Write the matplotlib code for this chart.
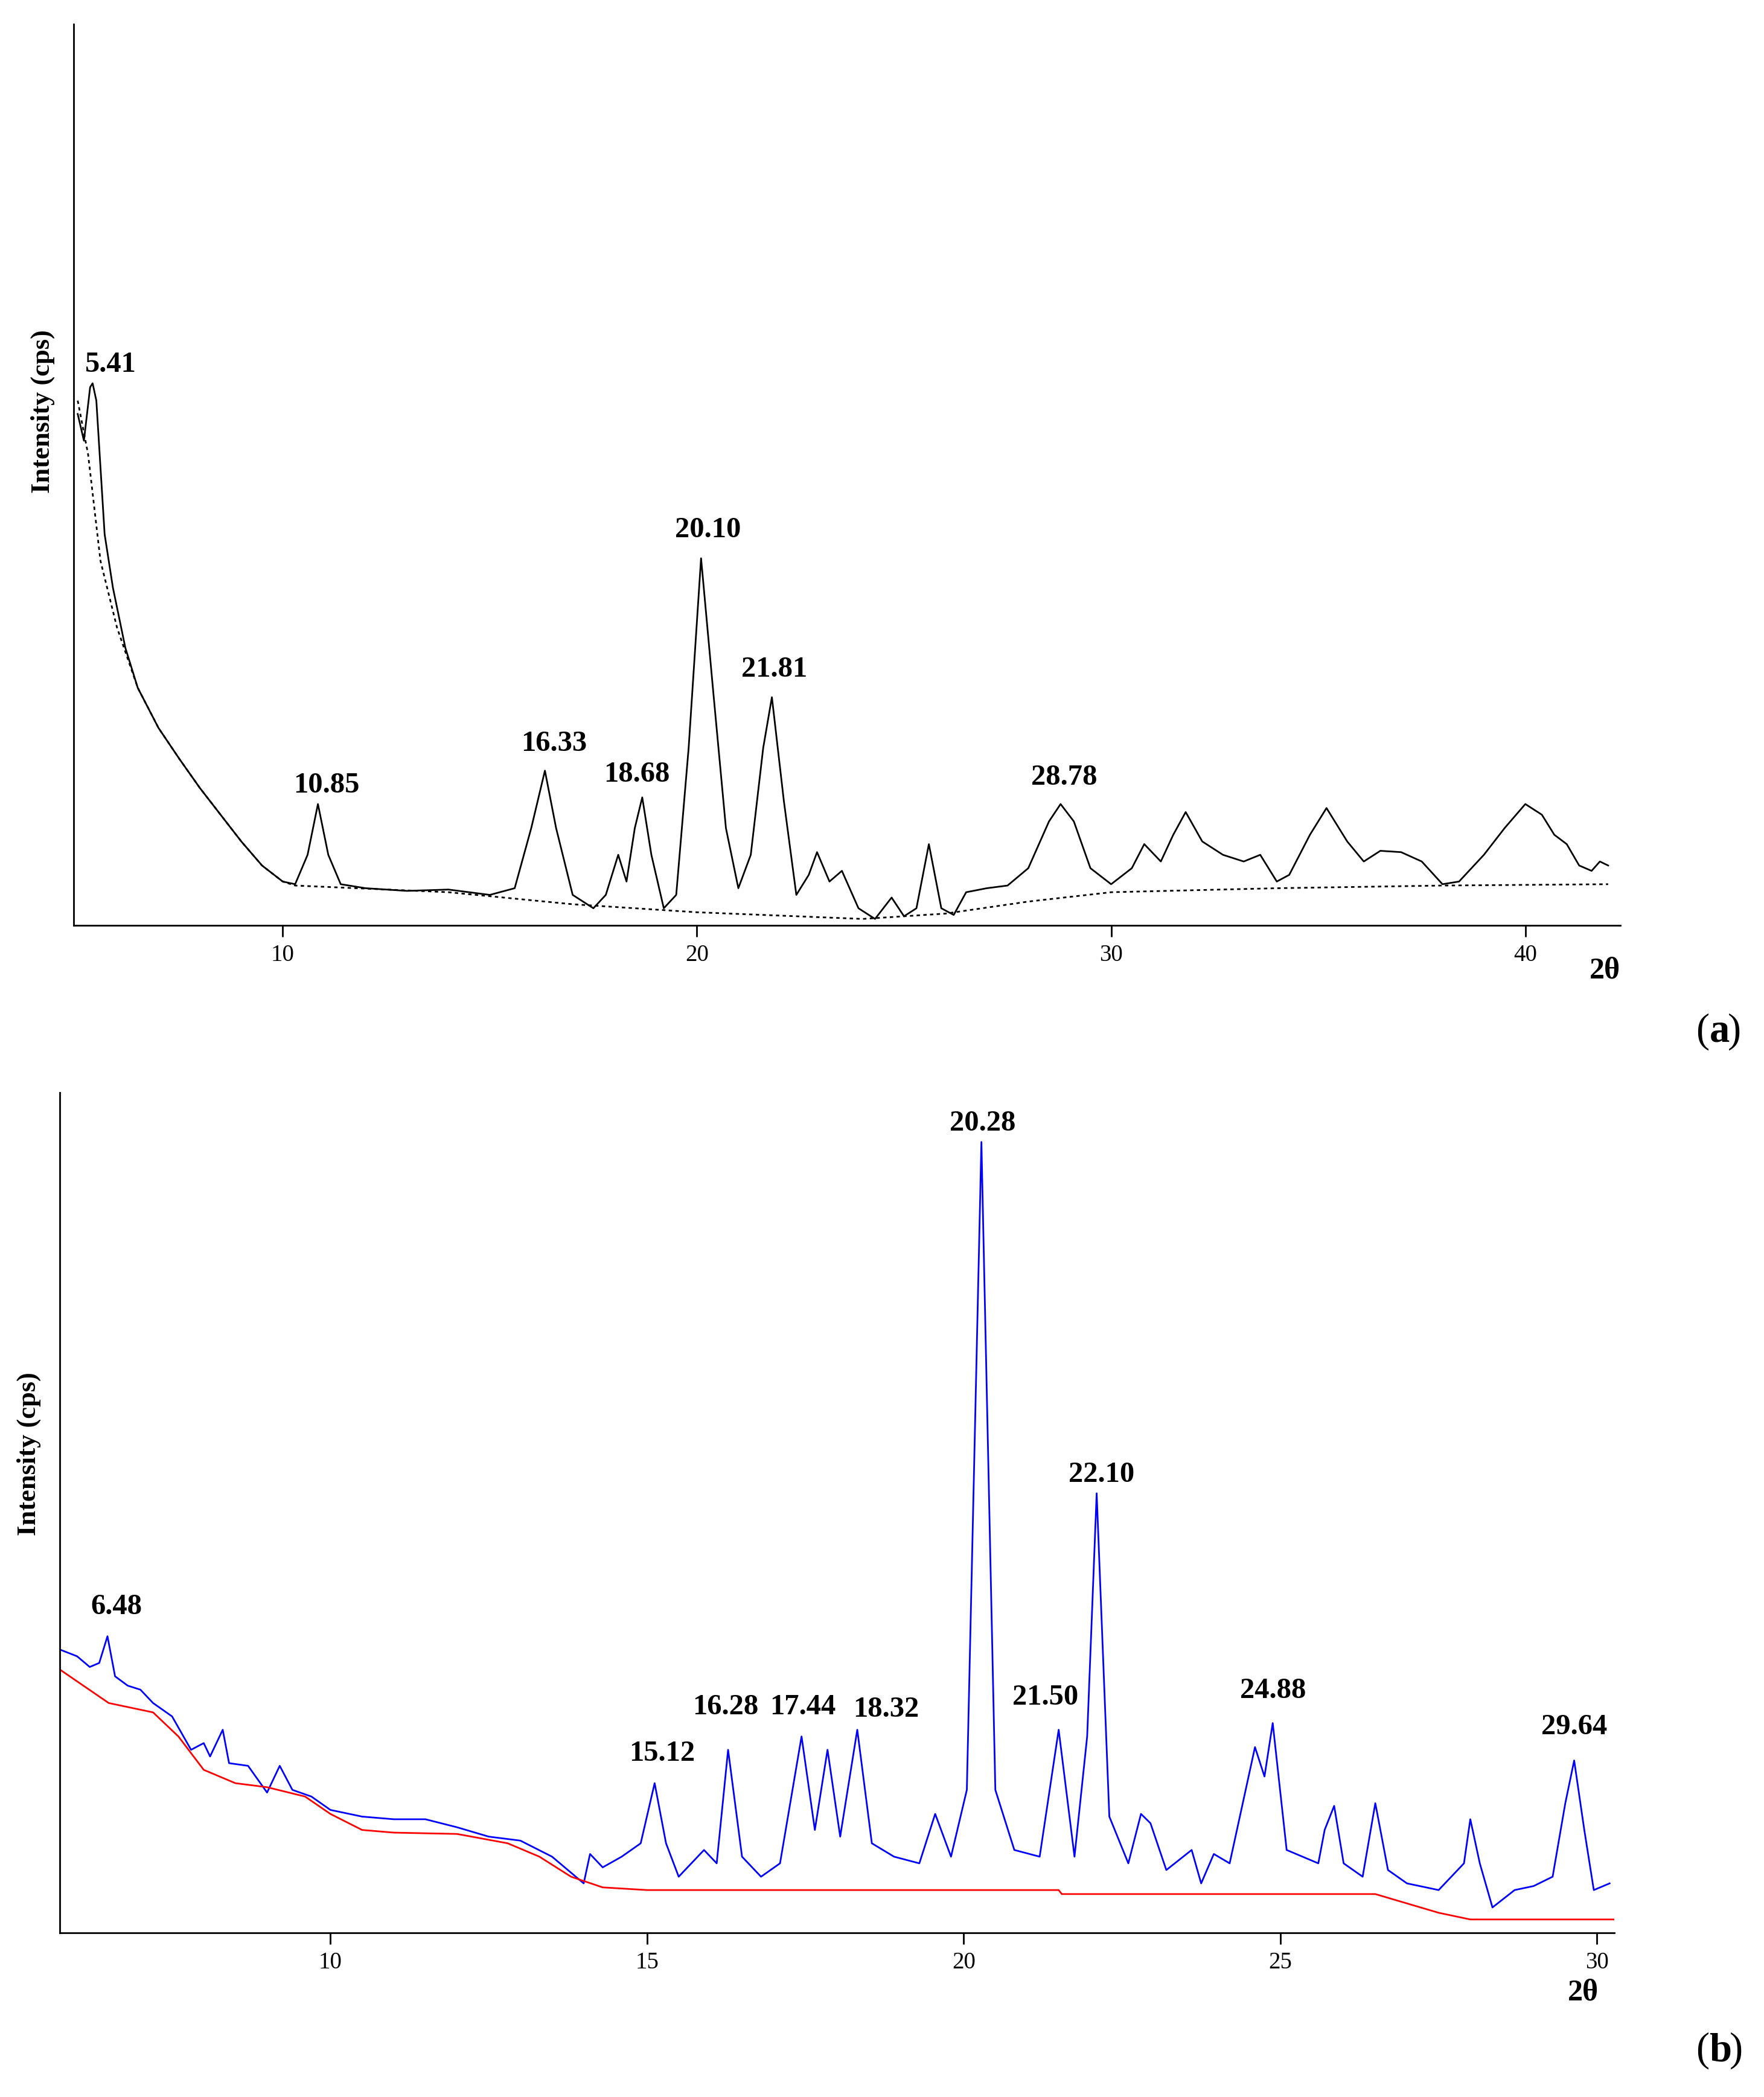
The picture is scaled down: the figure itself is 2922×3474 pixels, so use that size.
import matplotlib
matplotlib.use("Agg")
import matplotlib.pyplot as plt

# Panel (a) pattern
a_x = [5.05,5.2,5.35,5.41,5.5,5.7,5.9,6.2,6.5,7.0,7.5,8.0,8.5,9.0,9.5,10.0,10.3,10.6,10.85,11.1,11.4,12,13,14,15,15.6,16.0,16.33,16.6,17.0,17.5,17.8,18.1,18.3,18.5,18.68,18.9,19.2,19.5,19.8,20.10,20.4,20.7,21.0,21.3,21.6,21.81,22.1,22.4,22.7,22.9,23.2,23.5,23.9,24.3,24.7,25.0,25.3,25.6,25.9,26.2,26.5,27,27.5,28.0,28.5,28.78,29.1,29.5,30,30.5,30.8,31.2,31.5,31.8,32.2,32.7,33.2,33.6,34.0,34.3,34.8,35.2,35.7,36.1,36.5,37.0,37.5,38.0,38.4,39.0,39.5,40.0,40.4,40.7,41.0,41.3,41.6,41.8,42.0]
a_y = [383,363,403,406,393,293,253,208,178,148,125,103,83,63,45,33,31,53,91,53,31,28,26,27,23,28,73,116,73,23,13,23,53,33,73,96,53,13,23,133,275,173,73,28,53,133,171,93,23,38,55,33,41,13,5,21,7,13,61,13,8,25,28,30,43,78,91,78,43,31,43,61,48,68,85,63,53,48,53,33,38,68,88,63,48,56,55,48,31,33,53,73,91,83,68,61,45,41,48,45]
a_bx = [5.05,5.3,5.6,6.0,6.5,7.0,7.5,8.0,8.5,9.0,9.5,10.0,10.3,14,17,20,24,26,28,30,34,38,42]
a_by = [393,353,273,223,178,148,125,103,83,63,45,33,30,25,16,10,5,9,18,25,28,30,31]
a_peaks = ["5.41","10.85","16.33","18.68","20.10","21.81","28.78"]
a_lab_x = [5.84,11.06,16.55,18.55,20.26,21.87,28.87]
a_lab_y = [420,105,136,113,296,192,111]

# Panel (b) pattern
b_x = [5.73,6.0,6.2,6.35,6.48,6.6,6.8,7.0,7.2,7.5,7.8,8.0,8.1,8.3,8.4,8.7,9.0,9.2,9.4,9.7,10.0,10.5,11,11.5,12,12.5,13,13.5,14.0,14.1,14.3,14.6,14.9,15.12,15.3,15.5,15.9,16.1,16.28,16.5,16.8,17.1,17.44,17.65,17.85,18.05,18.32,18.55,18.9,19.3,19.55,19.8,20.05,20.28,20.5,20.8,21.2,21.50,21.75,21.95,22.10,22.3,22.6,22.8,22.95,23.2,23.6,23.75,23.95,24.2,24.6,24.75,24.88,25.1,25.6,25.7,25.85,26.0,26.3,26.5,26.7,27.0,27.5,27.9,28.0,28.15,28.35,28.7,29.0,29.3,29.5,29.64,29.8,29.95,30.2]
b_y = [212,207,199,202,222,192,185,182,172,162,137,142,132,152,127,125,105,125,107,102,92,87,85,85,79,72,69,57,37,59,49,57,67,112,67,42,62,52,137,57,42,52,147,77,137,72,152,67,57,52,89,57,107,592,107,62,57,152,57,147,329,87,52,89,82,47,62,37,59,52,139,117,157,62,52,77,95,52,42,97,47,37,32,52,85,52,19,32,35,42,97,129,77,32,37]
b_bx = [5.73,6.5,7.2,7.6,8.0,8.5,9.0,9.6,10.0,10.5,11,12,12.8,13.3,13.8,14.3,15,21.5,21.55,26.5,27.0,27.5,28,30.27]
b_by = [197,172,165,147,122,112,109,102,89,77,75,74,67,57,42,34,32,32,29,29,22,15,10,10]
b_peaks = ["6.48","15.12","16.28","17.44","18.32","20.28","21.50","22.10","24.88","29.64"]
b_lab_x = [6.62,15.24,16.24,17.46,18.77,20.3,21.29,22.18,24.88,29.64]
b_lab_y = [244,134,169,169,167,606,176,343,181,154]

serif = ["Liberation Serif", "DejaVu Serif"]
fig = plt.figure(figsize=(29.22, 34.74), dpi=100)

def style(ax):
    for s in ["top", "right"]:
        ax.spines[s].set_visible(False)
    for s in ["left", "bottom"]:
        ax.spines[s].set_linewidth(2)
    ax.set_yticks([])
    ax.tick_params(axis="x", length=14, width=2, labelsize=28, pad=8)
    for t in ax.get_xticklabels():
        t.set_family(serif)

axa = fig.add_axes([0.0417, 0.5586, 0.877, 0.43])
axa.plot(a_x, a_y, color="black", lw=2)
axa.plot(a_bx, a_by, color="black", lw=2, ls=(0, (2, 2)))
axa.set_xlim(4.95, 42.3)
axa.set_ylim(0, 675)
axa.set_xticks([10, 20, 30, 40])
style(axa)
for s, x, y in zip(a_peaks, a_lab_x, a_lab_y):
    axa.text(x, y, s, ha="center", va="center", fontsize=35,
             fontweight="bold", family=serif)
axa.text(-0.02, 0.57, "Intensity (cps)", transform=axa.transAxes, rotation=90,
         ha="center", va="center", fontsize=32, fontweight="bold", family=serif)
axa.text(0.99, -0.035, "2θ", transform=axa.transAxes, ha="center", va="top",
         fontsize=36, fontweight="bold", family=serif)
fig.text(0.969, 0.508, "(", ha="right", va="center", fontsize=48, family=serif)
fig.text(0.969, 0.508, "a", ha="left", va="center", fontsize=48, fontweight="bold", family=serif)
fig.text(0.9795, 0.508, ")", ha="left", va="center", fontsize=48, family=serif)

axb = fig.add_axes([0.034, 0.0783, 0.881, 0.4007])
axb.plot(b_x, b_y, color="blue", lw=2)
axb.plot(b_bx, b_by, color="red", lw=2)
axb.set_xlim(5.73, 30.27)
axb.set_ylim(0, 629)
axb.set_xticks([10, 15, 20, 25, 30])
style(axb)
for s, x, y in zip(b_peaks, b_lab_x, b_lab_y):
    axb.text(x, y, s, ha="center", va="center", fontsize=35,
             fontweight="bold", family=serif)
axb.text(-0.02, 0.57, "Intensity (cps)", transform=axb.transAxes, rotation=90,
         ha="center", va="center", fontsize=32, fontweight="bold", family=serif)
axb.text(0.98, -0.055, "2θ", transform=axb.transAxes, ha="center", va="top",
         fontsize=36, fontweight="bold", family=serif)
fig.text(0.969, 0.022, "(", ha="right", va="center", fontsize=48, family=serif)
fig.text(0.969, 0.022, "b", ha="left", va="center", fontsize=48, fontweight="bold", family=serif)
fig.text(0.9805, 0.022, ")", ha="left", va="center", fontsize=48, family=serif)

fig.savefig("out.png", dpi=100)
